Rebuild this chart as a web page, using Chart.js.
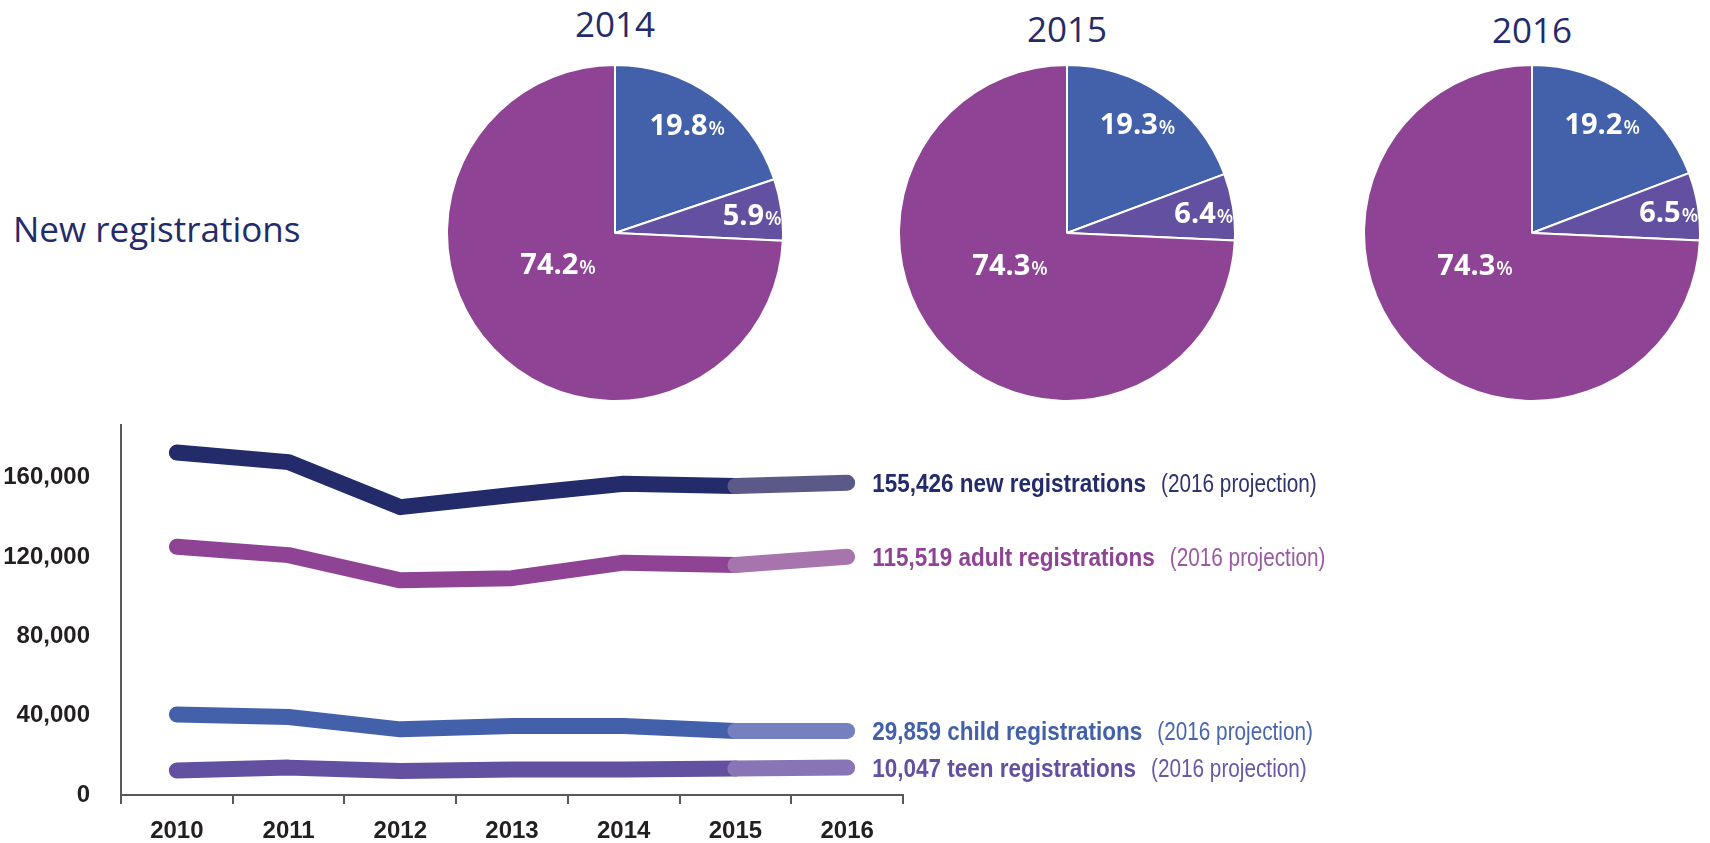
<!DOCTYPE html>
<html>
<head>
<meta charset="utf-8">
<script src="https://cdn.jsdelivr.net/npm/chart.js@4.4.0/dist/chart.umd.min.js"></script>
<style>
  body { margin: 0; background: #fff; width: 1710px; height: 843px; position: relative; overflow: hidden; font-family: 'Open Sans', sans-serif; }
  canvas { position: absolute; }
  .txt { position: absolute; color: #232B6A; line-height: 1; white-space: nowrap; }
</style>
</head>
<body>
<div class="txt" style="left:13px; top:211px; font-size:35px;">New registrations</div>
<canvas id="lineChart" width="1710" height="463" style="left:0; top:380px;"></canvas>
<script>
// line chart data (2016 is the projection)
const years = ['2010', '2011', '2012', '2013', '2014', '2015', '2016'];
const newRegs = [172600, 167800, 145100, 151200, 156900, 155700];
const adultRegs = [125100, 120900, 108200, 109300, 117100, 115900];
const childRegs = [40600, 39300, 33100, 34800, 34800, 32300];
const teenRegs = [12400, 13800, 12100, 12800, 12800, 13300];
const projected2016 = [157400, 120100, 32300, 13800];
const projectedText = ['155,426 new registrations', '115,519 adult registrations', '29,859 child registrations', '10,047 teen registrations'];
const yTicks = [0, 40000, 80000, 120000, 160000];

// pie data
const pieYears = ['2014', '2015', '2016'];
const sliceNames = ['child', 'teen', 'adult'];
const childShare = [19.8, 19.3, 19.2];
const teenShare = [5.9, 6.4, 6.5];
const adultShare = [74.2, 74.3, 74.3];

const SANS = '"Liberation Sans", Arial, sans-serif';

const series = [
    { values: newRegs,   dark: '#232B6A', light: '#5A5987', note: '#2E3470' },
    { values: adultRegs, dark: '#8E4394', light: '#A874AE', note: '#9A5AA2' },
    { values: childRegs, dark: '#4361AA', light: '#7480C0', note: '#4A66AE' },
    { values: teenRegs,  dark: '#6450A0', light: '#8775B5', note: '#6A58A6' }
];

const datasets = [];
series.forEach((s, k) => {
    // projection segment drawn on top
    const last = s.values.length - 1;
    datasets.push({
        data: years.map((y, i) => i === last ? s.values[last] : (i === last + 1 ? projected2016[k] : null)),
        borderColor: s.light,
        order: 0
    });
    datasets.push({
        data: s.values,
        borderColor: s.dark,
        order: 1
    });
});

// squeezed text, to get a condensed look
function narrowText(ctx, text, x, y, squeeze) {
    ctx.save();
    ctx.translate(x, y);
    ctx.scale(squeeze, 1);
    ctx.fillText(text, 0, 0);
    ctx.restore();
    return ctx.measureText(text).width * squeeze;
}

const lineLabels = {
    id: 'lineLabels',
    afterDatasetsDraw(chart) {
        const ctx = chart.ctx;
        series.forEach((s, k) => {
            const pt = chart.getDatasetMeta(k * 2).data[6];
            let x = pt.x + 25;
            const y = pt.y + 9;
            ctx.save();
            ctx.textBaseline = 'alphabetic';
            ctx.font = 'bold 25px ' + SANS;
            ctx.fillStyle = s.dark;
            x += narrowText(ctx, projectedText[k], x, y, 0.9) + 15;
            ctx.font = '25px ' + SANS;
            ctx.fillStyle = s.note;
            narrowText(ctx, '(2016 projection)', x, y, 0.83);
            ctx.restore();
        });
    }
};

new Chart(document.getElementById('lineChart'), {
    type: 'line',
    data: { labels: years, datasets: datasets },
    options: {
        responsive: false,
        animation: false,
        layout: { padding: { top: 40, right: 807, left: 0, bottom: 0 } },
        plugins: { legend: { display: false }, tooltip: { enabled: false } },
        elements: {
            point: { radius: 0 },
            line: { borderWidth: 16, borderCapStyle: 'round', borderJoinStyle: 'round', tension: 0 }
        },
        scales: {
            x: {
                offset: true,
                grid: { display: true, drawOnChartArea: false, drawTicks: true, tickLength: 9, offset: true, color: '#58585A', lineWidth: 2 },
                border: { display: true, color: '#58585A', width: 2 },
                ticks: { color: '#231F20', padding: 13, maxRotation: 0, font: { family: SANS, size: 24, weight: 'bold' } },
                afterFit: s => { s.height = 48; }
            },
            y: {
                min: 0,
                max: 186300,
                grid: { display: false, drawTicks: false },
                border: { display: true, color: '#58585A', width: 2 },
                afterBuildTicks: s => { s.ticks = yTicks.map(v => ({ value: v })); },
                ticks: {
                    padding: 31, color: '#231F20',
                    font: { family: SANS, size: 24, weight: 'bold' },
                    callback: v => v.toLocaleString('en-US')
                },
                afterFit: s => { s.width = 121; }
            }
        }
    },
    plugins: [lineLabels]
});

// pies
const pieCenters = [615, 1067, 1532];
const titleTops = [6, 11, 12];
const labelTurn = [-2, 0.5, 15];     // degrees
const labelReach = [0.77, 0.82, 0.39];

const pieLabels = {
    id: 'pieLabels',
    afterDatasetsDraw(chart) {
        const ctx = chart.ctx;
        const values = chart.data.datasets[0].data;
        chart.getDatasetMeta(0).data.forEach((arc, i) => {
            const mid = (arc.startAngle + arc.endAngle) / 2 + labelTurn[i] * Math.PI / 180;
            const r = arc.outerRadius * labelReach[i];
            const cx = arc.x + Math.cos(mid) * r;
            const cy = arc.y + Math.sin(mid) * r;
            const num = values[i].toFixed(1);
            ctx.save();
            ctx.fillStyle = '#fff';
            ctx.textBaseline = 'alphabetic';
            ctx.font = 'bold 29px "Open Sans"';
            const w1 = ctx.measureText(num).width;
            ctx.font = '600 19px "Open Sans"';
            const w2 = ctx.measureText('%').width;
            const x = cx - (w1 + w2) / 2;
            ctx.font = 'bold 29px "Open Sans"';
            ctx.fillText(num, x, cy + 10);
            ctx.font = '600 19px "Open Sans"';
            ctx.fillText('%', x + w1 + 1, cy + 10);
            ctx.restore();
        });
    }
};

pieYears.forEach((yr, j) => {
    const title = document.createElement('div');
    title.className = 'txt';
    title.style.cssText = 'left:' + (pieCenters[j] - 100) + 'px; top:' + titleTops[j] + 'px; width:200px; text-align:center; font-size:35px; font-weight:500;';
    title.textContent = yr;
    document.body.appendChild(title);

    const cv = document.createElement('canvas');
    cv.width = 338;
    cv.height = 338;
    cv.style.left = (pieCenters[j] - 169) + 'px';
    cv.style.top = '64px';
    document.body.appendChild(cv);

    new Chart(cv, {
        type: 'pie',
        data: {
            labels: sliceNames,
            datasets: [{
                data: [childShare[j], teenShare[j], adultShare[j]],
                backgroundColor: ['#4361AA', '#6450A0', '#8E4394'],
                borderColor: '#fff',
                borderWidth: 2
            }]
        },
        options: {
            responsive: false,
            animation: false,
            plugins: { legend: { display: false }, tooltip: { enabled: false } }
        },
        plugins: [pieLabels]
    });
});
</script>
</body>
</html>
